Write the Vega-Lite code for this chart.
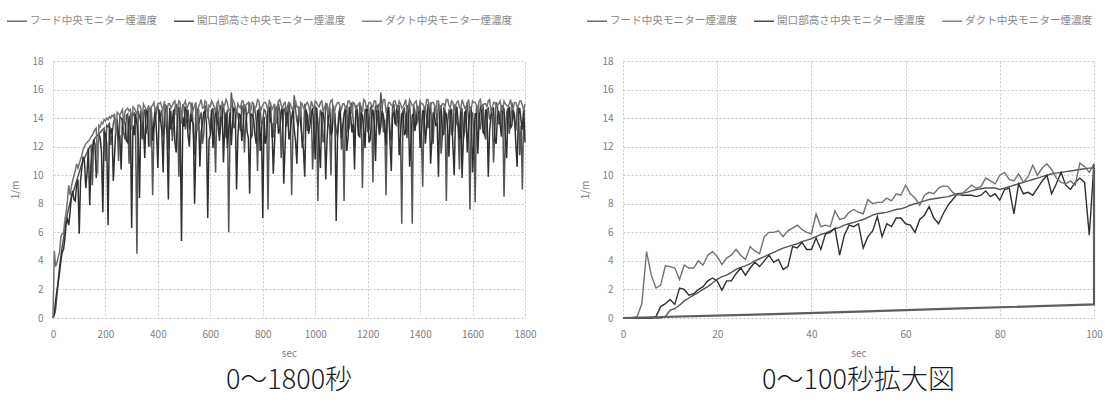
{
"$schema":"https://vega.github.io/schema/vega-lite/v6.json",
"background":"white",
"padding":{"left":6,"top":10,"right":5,"bottom":3},
"spacing":43,
"config":{
"font":"Noto Sans CJK JP",
"view":{"stroke":null},
"axis":{"labelColor":"#808080","labelFontSize":10,"titleColor":"#808080","titleFontSize":10,"titleFontWeight":"normal","gridColor":"#c8c8c8","gridDash":[2,2],"ticks":false,"domain":false,"labelPadding":11,"format":"d","labelFlush":false},
"axisY":{"titlePadding":11,"labelPadding":10},
"axisX":{"titlePadding":9},
"legend":{"orient":"none","direction":"horizontal","symbolType":"stroke","symbolSize":400,"symbolStrokeWidth":1.3,"labelFontSize":10.6,"labelColor":"#8a8a8a","labelOffset":2,"columnPadding":13,"padding":0},
"title":{"orient":"bottom","anchor":"middle","fontSize":27,"fontWeight":300,"color":"#1a1a1a","offset":10}
},
"datasets":{
"full":[
{"t":0,"A":0,"B":0,"C":0},{"t":5,"A":0.2,"B":0.3,"C":4.7},{"t":10,"A":0.6,"B":1.2,"C":3.6},{"t":20,"A":2.7,"B":2.5,"C":4.3},{"t":30,"A":4.3,"B":4.0,"C":5.7},{"t":40,"A":5.5,"B":4.8,"C":5.9},{"t":50,"A":6.8,"B":6.6,"C":7.4},{"t":60,"A":7.7,"B":6.5,"C":9.3},{"t":70,"A":8.4,"B":8.5,"C":9.2},{"t":80,"A":9.0,"B":8.3,"C":10.0},{"t":90,"A":9.6,"B":9.4,"C":10.8},{"t":100,"A":10.2,"B":5.9,"C":10.8},
{"t":110,"A":10.8,"B":10.5,"C":11.4},{"t":120,"A":11.2,"B":11.0,"C":12.0},{"t":130,"A":11.6,"B":10.2,"C":12.3},{"t":140,"A":12.0,"B":7.9,"C":12.5},{"t":150,"A":9.3,"B":11.8,"C":12.8},{"t":160,"A":12.6,"B":12.2,"C":13.2},{"t":170,"A":12.8,"B":11.4,"C":10.1},{"t":180,"A":13.0,"B":12.6,"C":13.4},{"t":190,"A":13.2,"B":7.4,"C":13.6},{"t":200,"A":11.0,"B":12.9,"C":13.8},
{"t":210,"A":13.4,"B":6.5,"C":13.9},{"t":220,"A":12.1,"B":13.0,"C":14.0},{"t":230,"A":13.6,"B":9.6,"C":14.1},{"t":240,"A":13.9,"B":13.5,"C":12.8},{"t":250,"A":11.0,"B":12.6,"C":14.3},{"t":260,"A":14.0,"B":10.4,"C":14.4},{"t":270,"A":12.9,"B":13.8,"C":13.6},{"t":280,"A":14.2,"B":12.4,"C":14.6},{"t":290,"A":10.8,"B":14.0,"C":14.5},{"t":300,"A":14.3,"B":6.3,"C":13.2},
{"t":310,"A":14.4,"B":12.8,"C":14.7},{"t":320,"A":4.5,"B":13.6,"C":14.2},{"t":330,"A":14.1,"B":8.4,"C":14.9},{"t":340,"A":12.5,"B":14.3,"C":13.8},{"t":350,"A":14.6,"B":11.2,"C":14.8},{"t":360,"A":13.4,"B":14.5,"C":14.6},{"t":370,"A":14.7,"B":13.0,"C":12.0},{"t":380,"A":8.6,"B":12.4,"C":14.9},{"t":390,"A":13.9,"B":14.6,"C":14.5},{"t":400,"A":14.8,"B":10.5,"C":15.0},
{"t":410,"A":14.2,"B":13.9,"C":15.1},{"t":420,"A":12.7,"B":10.2,"C":14.6},{"t":430,"A":14.9,"B":14.7,"C":13.4},{"t":440,"A":11.8,"B":8.3,"C":15.0},{"t":450,"A":14.5,"B":13.2,"C":14.7},{"t":460,"A":13.6,"B":14.6,"C":15.1},{"t":470,"A":15.0,"B":11.6,"C":14.2},{"t":480,"A":9.9,"B":14.8,"C":15.2},{"t":490,"A":14.3,"B":5.4,"C":13.6},{"t":500,"A":14.8,"B":13.4,"C":15.0},
{"t":510,"A":14.1,"B":14.5,"C":14.6},{"t":520,"A":13.2,"B":12.0,"C":15.1},{"t":530,"A":15.1,"B":13.8,"C":14.3},{"t":540,"A":11.4,"B":8.0,"C":14.9},{"t":550,"A":14.6,"B":14.2,"C":13.1},{"t":560,"A":14.0,"B":10.6,"C":15.0},{"t":570,"A":12.2,"B":13.7,"C":14.7},{"t":580,"A":14.9,"B":14.5,"C":15.2},{"t":590,"A":14.4,"B":7.0,"C":14.0},{"t":600,"A":13.0,"B":12.8,"C":14.8},
{"t":610,"A":14.7,"B":11.9,"C":15.0},{"t":620,"A":10.2,"B":14.6,"C":14.4},{"t":630,"A":14.4,"B":13.4,"C":15.2},{"t":640,"A":13.5,"B":14.8,"C":14.1},{"t":650,"A":15.0,"B":10.9,"C":14.8},{"t":660,"A":12.6,"B":14.4,"C":15.3},{"t":670,"A":6.0,"B":13.2,"C":14.5},{"t":680,"A":15.8,"B":12.1,"C":14.9},{"t":690,"A":13.3,"B":14.7,"C":15.1},{"t":700,"A":14.6,"B":9.0,"C":14.2},
{"t":710,"A":13.6,"B":14.3,"C":14.8},{"t":720,"A":14.9,"B":12.4,"C":15.2},{"t":730,"A":11.6,"B":14.9,"C":14.6},{"t":740,"A":14.3,"B":13.1,"C":15.0},{"t":750,"A":15.1,"B":8.7,"C":14.3},{"t":760,"A":12.8,"B":14.2,"C":15.1},{"t":770,"A":14.6,"B":12.9,"C":14.7},{"t":780,"A":10.3,"B":14.5,"C":15.3},{"t":790,"A":14.8,"B":11.7,"C":14.4},{"t":800,"A":13.9,"B":7.0,"C":14.9},
{"t":810,"A":14.5,"B":12.2,"C":15.1},{"t":820,"A":7.6,"B":14.6,"C":14.5},{"t":830,"A":14.9,"B":13.8,"C":15.0},{"t":840,"A":12.7,"B":10.1,"C":14.8},{"t":850,"A":14.2,"B":14.8,"C":13.6},{"t":860,"A":15.0,"B":12.9,"C":15.2},{"t":870,"A":11.2,"B":14.4,"C":14.9},{"t":880,"A":14.6,"B":9.4,"C":15.0},{"t":890,"A":13.4,"B":14.7,"C":14.4},{"t":900,"A":15.1,"B":12.5,"C":15.1},
{"t":910,"A":8.6,"B":14.0,"C":14.7},{"t":920,"A":15.6,"B":13.2,"C":15.2},{"t":930,"A":13.8,"B":10.8,"C":14.8},{"t":940,"A":14.7,"B":14.5,"C":13.9},{"t":950,"A":11.9,"B":12.6,"C":15.0},{"t":960,"A":15.0,"B":9.9,"C":14.6},{"t":970,"A":13.1,"B":14.2,"C":15.1},{"t":980,"A":14.5,"B":13.5,"C":14.3},{"t":990,"A":10.4,"B":14.7,"C":14.9},{"t":1000,"A":14.8,"B":11.1,"C":15.2},
{"t":1010,"A":8.2,"B":13.6,"C":14.9},{"t":1020,"A":14.6,"B":10.5,"C":15.1},{"t":1030,"A":12.3,"B":14.4,"C":14.5},{"t":1040,"A":15.0,"B":9.7,"C":15.0},{"t":1050,"A":13.7,"B":14.1,"C":14.2},{"t":1060,"A":10.0,"B":12.8,"C":15.2},{"t":1070,"A":14.8,"B":14.6,"C":13.8},{"t":1080,"A":13.2,"B":6.8,"C":14.9},{"t":1090,"A":14.4,"B":13.9,"C":15.1},{"t":1100,"A":11.8,"B":12.6,"C":14.6},
{"t":1110,"A":8.2,"B":14.3,"C":15.0},{"t":1120,"A":14.9,"B":11.7,"C":14.6},{"t":1130,"A":13.4,"B":14.8,"C":15.2},{"t":1140,"A":15.1,"B":13.0,"C":14.3},{"t":1150,"A":12.0,"B":10.4,"C":15.0},{"t":1160,"A":14.5,"B":14.6,"C":14.8},{"t":1170,"A":14.9,"B":12.7,"C":15.1},{"t":1180,"A":9.1,"B":14.2,"C":14.4},{"t":1190,"A":14.6,"B":11.9,"C":15.2},{"t":1200,"A":13.1,"B":14.9,"C":14.7},
{"t":1210,"A":14.7,"B":12.5,"C":15.1},{"t":1220,"A":9.5,"B":14.6,"C":14.8},{"t":1230,"A":14.9,"B":11.0,"C":15.2},{"t":1240,"A":13.6,"B":14.9,"C":14.6},{"t":1250,"A":15.8,"B":13.4,"C":15.0},{"t":1260,"A":13.0,"B":14.2,"C":15.3},{"t":1270,"A":8.6,"B":12.1,"C":14.5},{"t":1280,"A":14.8,"B":14.7,"C":15.1},{"t":1290,"A":12.4,"B":10.3,"C":14.9},{"t":1300,"A":15.0,"B":14.4,"C":15.2},
{"t":1310,"A":13.5,"B":14.6,"C":14.8},{"t":1320,"A":14.9,"B":11.4,"C":15.2},{"t":1330,"A":6.6,"B":14.3,"C":14.7},{"t":1340,"A":14.7,"B":12.8,"C":15.0},{"t":1350,"A":12.6,"B":14.9,"C":14.4},{"t":1360,"A":15.1,"B":10.6,"C":15.3},{"t":1370,"A":6.6,"B":14.2,"C":14.9},{"t":1380,"A":14.5,"B":13.1,"C":15.1},{"t":1390,"A":13.8,"B":14.8,"C":14.5},{"t":1400,"A":15.0,"B":11.9,"C":15.2},
{"t":1410,"A":9.2,"B":14.5,"C":15.0},{"t":1420,"A":14.8,"B":12.2,"C":14.7},{"t":1430,"A":13.3,"B":14.9,"C":15.3},{"t":1440,"A":15.1,"B":10.8,"C":14.9},{"t":1450,"A":12.2,"B":14.4,"C":15.1},{"t":1460,"A":14.6,"B":13.5,"C":14.6},{"t":1470,"A":15.0,"B":9.9,"C":15.2},{"t":1480,"A":11.5,"B":14.7,"C":14.8},{"t":1490,"A":14.7,"B":12.9,"C":15.0},{"t":1500,"A":8.2,"B":14.3,"C":15.3},
{"t":1510,"A":14.5,"B":11.3,"C":14.9},{"t":1520,"A":12.8,"B":14.6,"C":15.2},{"t":1530,"A":14.9,"B":10.0,"C":14.6},{"t":1540,"A":13.6,"B":14.8,"C":15.1},{"t":1550,"A":10.4,"B":12.5,"C":14.8},{"t":1560,"A":14.7,"B":9.8,"C":15.3},{"t":1570,"A":13.0,"B":14.4,"C":14.7},{"t":1580,"A":15.1,"B":11.6,"C":15.0},{"t":1590,"A":7.6,"B":14.7,"C":14.5},{"t":1600,"A":14.4,"B":10.2,"C":15.2},
{"t":1610,"A":8.1,"B":14.3,"C":15.1},{"t":1620,"A":14.8,"B":11.5,"C":14.6},{"t":1630,"A":13.2,"B":14.8,"C":15.3},{"t":1640,"A":15.0,"B":13.0,"C":14.9},{"t":1650,"A":12.5,"B":14.6,"C":15.0},{"t":1660,"A":14.7,"B":9.9,"C":15.2},{"t":1670,"A":14.2,"B":14.1,"C":14.5},{"t":1680,"A":10.9,"B":14.7,"C":15.1},{"t":1690,"A":15.1,"B":12.2,"C":14.8},{"t":1700,"A":13.6,"B":14.5,"C":15.0},
{"t":1710,"A":14.9,"B":12.7,"C":14.7},{"t":1720,"A":8.5,"B":14.6,"C":15.2},{"t":1730,"A":14.4,"B":11.2,"C":14.9},{"t":1740,"A":12.9,"B":14.8,"C":15.0},{"t":1750,"A":15.1,"B":13.5,"C":14.6},{"t":1760,"A":13.8,"B":14.2,"C":15.1},{"t":1770,"A":14.6,"B":10.6,"C":14.8},{"t":1780,"A":11.4,"B":14.7,"C":15.2},{"t":1790,"A":9.0,"B":13.2,"C":14.9},{"t":1800,"A":14.5,"B":12.3,"C":15.0},
{"t":15,"A":1.6,"B":1.9,"C":3.9},{"t":25,"A":3.6,"B":3.2,"C":4.6},{"t":35,"A":5.0,"B":4.6,"C":5.9},{"t":45,"A":6.1,"B":5.5,"C":6.8},{"t":55,"A":7.3,"B":6.9,"C":8.2},{"t":65,"A":8.1,"B":7.4,"C":8.6},{"t":75,"A":8.7,"B":8.9,"C":9.6},{"t":85,"A":9.3,"B":8.2,"C":10.3},{"t":95,"A":9.9,"B":9.7,"C":10.5},
{"t":105,"A":10.5,"B":9.6,"C":11.1},{"t":115,"A":11.0,"B":11.3,"C":11.8},{"t":125,"A":11.4,"B":9.1,"C":12.2},{"t":135,"A":11.8,"B":11.9,"C":12.4},{"t":145,"A":12.1,"B":10.8,"C":12.7},{"t":155,"A":12.4,"B":12.5,"C":13.0},{"t":165,"A":12.7,"B":9.8,"C":13.3},{"t":175,"A":12.9,"B":12.9,"C":13.5},{"t":185,"A":13.1,"B":11.6,"C":13.7},{"t":195,"A":13.3,"B":13.1,"C":13.9},
{"t":205,"A":13.5,"B":12.2,"C":14.0},{"t":215,"A":13.7,"B":13.4,"C":14.1},{"t":225,"A":12.8,"B":13.3,"C":14.2},{"t":235,"A":14.0,"B":11.5,"C":14.3},{"t":245,"A":13.6,"B":13.9,"C":14.4},{"t":255,"A":14.1,"B":12.7,"C":14.2},{"t":265,"A":13.8,"B":14.0,"C":14.6},{"t":275,"A":12.5,"B":13.6,"C":14.5},{"t":285,"A":14.3,"B":12.3,"C":14.7},{"t":295,"A":13.9,"B":14.2,"C":14.6},
{"t":305,"A":14.2,"B":13.5,"C":14.8},{"t":315,"A":13.0,"B":14.3,"C":14.5},{"t":325,"A":14.5,"B":12.6,"C":14.9},{"t":335,"A":13.7,"B":14.4,"C":14.7},{"t":345,"A":14.3,"B":13.3,"C":15.0},{"t":355,"A":12.9,"B":14.6,"C":14.6},{"t":365,"A":14.6,"B":12.0,"C":14.9},{"t":375,"A":14.0,"B":14.5,"C":14.8},{"t":385,"A":13.2,"B":13.8,"C":15.1},{"t":395,"A":14.7,"B":12.9,"C":14.7},
{"t":405,"A":13.8,"B":14.6,"C":15.0},{"t":415,"A":14.6,"B":13.1,"C":14.8},{"t":425,"A":13.3,"B":14.4,"C":15.2},{"t":435,"A":14.8,"B":12.6,"C":14.6},{"t":445,"A":13.9,"B":14.7,"C":15.0},{"t":455,"A":12.4,"B":13.8,"C":14.9},{"t":465,"A":14.7,"B":12.3,"C":15.2},{"t":475,"A":14.1,"B":14.5,"C":14.7},{"t":485,"A":13.5,"B":13.2,"C":15.1},{"t":495,"A":14.9,"B":14.1,"C":14.8},
{"t":505,"A":13.2,"B":14.8,"C":15.2},{"t":515,"A":14.6,"B":12.8,"C":14.9},{"t":525,"A":14.0,"B":14.3,"C":15.0},{"t":535,"A":13.1,"B":13.6,"C":14.6},{"t":545,"A":14.8,"B":12.2,"C":15.1},{"t":555,"A":13.6,"B":14.6,"C":14.8},{"t":565,"A":14.4,"B":13.0,"C":15.3},{"t":575,"A":12.9,"B":14.4,"C":14.7},{"t":585,"A":14.7,"B":13.7,"C":15.1},{"t":595,"A":13.8,"B":12.5,"C":14.9},
{"t":605,"A":14.5,"B":14.6,"C":15.2},{"t":615,"A":13.4,"B":13.3,"C":14.8},{"t":625,"A":14.9,"B":14.0,"C":15.0},{"t":635,"A":12.8,"B":12.4,"C":14.7},{"t":645,"A":14.3,"B":14.7,"C":15.2},{"t":655,"A":13.9,"B":13.5,"C":14.9},{"t":665,"A":14.6,"B":11.9,"C":15.1},{"t":675,"A":13.0,"B":14.4,"C":14.6},{"t":685,"A":14.8,"B":13.8,"C":15.3},{"t":695,"A":13.5,"B":14.6,"C":14.8},
{"t":705,"A":14.2,"B":12.7,"C":15.0},{"t":715,"A":13.1,"B":14.2,"C":14.7},{"t":725,"A":14.7,"B":13.4,"C":15.2},{"t":735,"A":13.7,"B":14.8,"C":14.9},{"t":745,"A":14.4,"B":12.6,"C":15.1},{"t":755,"A":12.6,"B":14.3,"C":14.6},{"t":765,"A":14.9,"B":13.9,"C":15.0},{"t":775,"A":13.8,"B":12.2,"C":14.8},{"t":785,"A":14.3,"B":14.6,"C":15.2},{"t":795,"A":13.2,"B":13.4,"C":14.7},
{"t":805,"A":14.6,"B":14.1,"C":15.1},{"t":815,"A":13.9,"B":12.8,"C":14.9},{"t":825,"A":14.2,"B":14.7,"C":15.2},{"t":835,"A":12.7,"B":13.6,"C":14.6},{"t":845,"A":14.8,"B":12.3,"C":15.0},{"t":855,"A":13.6,"B":14.5,"C":14.8},{"t":865,"A":14.5,"B":13.2,"C":15.3},{"t":875,"A":13.1,"B":14.8,"C":14.7},{"t":885,"A":14.7,"B":12.0,"C":15.1},{"t":895,"A":13.8,"B":14.3,"C":14.9},
{"t":905,"A":14.1,"B":13.0,"C":15.0},{"t":915,"A":12.9,"B":14.6,"C":14.6},{"t":925,"A":14.6,"B":12.4,"C":15.2},{"t":935,"A":13.4,"B":14.1,"C":14.8},{"t":945,"A":14.8,"B":13.5,"C":15.1},{"t":955,"A":12.6,"B":11.8,"C":14.7},{"t":965,"A":14.3,"B":14.6,"C":15.0},{"t":975,"A":13.7,"B":12.9,"C":14.9},{"t":985,"A":14.5,"B":14.2,"C":15.2},{"t":995,"A":13.0,"B":13.3,"C":14.6},
{"t":1005,"A":14.7,"B":14.7,"C":15.1},{"t":1015,"A":13.5,"B":12.1,"C":14.8},{"t":1025,"A":14.2,"B":14.4,"C":15.2},{"t":1035,"A":12.8,"B":13.6,"C":14.7},{"t":1045,"A":14.9,"B":12.5,"C":15.0},{"t":1055,"A":13.3,"B":14.8,"C":14.9},{"t":1065,"A":14.6,"B":13.1,"C":15.3},{"t":1075,"A":13.9,"B":14.3,"C":14.6},{"t":1085,"A":12.7,"B":12.7,"C":15.1},{"t":1095,"A":14.8,"B":14.5,"C":14.8},
{"t":1105,"A":13.6,"B":13.4,"C":15.0},{"t":1115,"A":14.4,"B":14.7,"C":14.7},{"t":1125,"A":13.0,"B":12.6,"C":15.2},{"t":1135,"A":14.7,"B":14.2,"C":14.9},{"t":1145,"A":13.8,"B":13.6,"C":15.1},{"t":1155,"A":14.2,"B":14.9,"C":14.6},{"t":1165,"A":12.9,"B":12.8,"C":15.0},{"t":1175,"A":14.8,"B":14.4,"C":14.8},{"t":1185,"A":13.5,"B":13.1,"C":15.3},{"t":1195,"A":14.6,"B":14.6,"C":14.7},
{"t":1205,"A":13.2,"B":12.3,"C":15.1},{"t":1215,"A":14.9,"B":14.1,"C":14.9},{"t":1225,"A":13.7,"B":13.7,"C":15.2},{"t":1235,"A":14.3,"B":14.8,"C":14.6},{"t":1245,"A":12.8,"B":12.9,"C":15.0},{"t":1255,"A":14.7,"B":14.5,"C":14.8},{"t":1265,"A":13.9,"B":13.3,"C":15.3},{"t":1275,"A":14.4,"B":14.7,"C":14.7},{"t":1285,"A":13.1,"B":12.4,"C":15.1},{"t":1295,"A":14.8,"B":14.2,"C":14.9},
{"t":1305,"A":13.6,"B":13.6,"C":15.2},{"t":1315,"A":14.5,"B":14.9,"C":14.6},{"t":1325,"A":12.9,"B":12.7,"C":15.0},{"t":1335,"A":14.6,"B":14.4,"C":14.8},{"t":1345,"A":13.8,"B":13.0,"C":15.3},{"t":1355,"A":14.3,"B":14.6,"C":14.7},{"t":1365,"A":13.2,"B":12.2,"C":15.1},{"t":1375,"A":14.9,"B":14.3,"C":14.9},{"t":1385,"A":13.5,"B":13.8,"C":15.2},{"t":1395,"A":14.4,"B":14.7,"C":14.6},
{"t":1405,"A":12.7,"B":12.9,"C":15.0},{"t":1415,"A":14.7,"B":14.5,"C":14.8},{"t":1425,"A":13.9,"B":13.4,"C":15.3},{"t":1435,"A":14.2,"B":14.8,"C":14.7},{"t":1445,"A":13.0,"B":12.5,"C":15.1},{"t":1455,"A":14.8,"B":14.1,"C":14.9},{"t":1465,"A":13.6,"B":13.6,"C":15.2},{"t":1475,"A":14.5,"B":14.9,"C":14.6},{"t":1485,"A":12.8,"B":12.8,"C":15.0},{"t":1495,"A":14.6,"B":14.4,"C":14.8},
{"t":1505,"A":13.7,"B":13.2,"C":15.3},{"t":1515,"A":14.3,"B":14.6,"C":14.7},{"t":1525,"A":13.1,"B":12.1,"C":15.1},{"t":1535,"A":14.9,"B":14.2,"C":14.9},{"t":1545,"A":13.4,"B":13.7,"C":15.2},{"t":1555,"A":14.4,"B":14.7,"C":14.6},{"t":1565,"A":12.6,"B":12.6,"C":15.0},{"t":1575,"A":14.7,"B":14.5,"C":14.8},{"t":1585,"A":13.8,"B":13.3,"C":15.3},{"t":1595,"A":14.2,"B":14.8,"C":14.7},
{"t":1605,"A":13.0,"B":12.3,"C":15.1},{"t":1615,"A":14.8,"B":14.3,"C":14.9},{"t":1625,"A":13.5,"B":13.8,"C":15.2},{"t":1635,"A":14.5,"B":14.6,"C":14.6},{"t":1645,"A":12.9,"B":12.9,"C":15.0},{"t":1655,"A":14.6,"B":14.4,"C":14.8},{"t":1665,"A":13.9,"B":13.1,"C":15.3},{"t":1675,"A":14.3,"B":14.7,"C":14.7},{"t":1685,"A":13.2,"B":12.5,"C":15.1},{"t":1695,"A":14.9,"B":14.2,"C":14.9},
{"t":1705,"A":13.6,"B":13.6,"C":15.2},{"t":1715,"A":14.4,"B":14.9,"C":14.6},{"t":1725,"A":12.8,"B":12.7,"C":15.0},{"t":1735,"A":14.7,"B":14.4,"C":14.8},{"t":1745,"A":13.7,"B":13.3,"C":15.3},{"t":1755,"A":14.2,"B":14.6,"C":14.7},{"t":1765,"A":13.1,"B":12.2,"C":15.1},{"t":1775,"A":14.8,"B":14.3,"C":14.9},{"t":1785,"A":13.5,"B":13.8,"C":15.2},{"t":1795,"A":14.5,"B":14.7,"C":14.6}
],
"zoom":[
{"t":0,"A":0,"B":0,"C":0},{"t":1,"A":0,"B":0,"C":0},{"t":2,"A":0,"B":0,"C":0},{"t":3,"A":0,"B":0,"C":0.1},{"t":4,"A":0,"B":0,"C":1.0},{"t":5,"A":0,"B":0,"C":4.65},{"t":6,"A":0,"B":0,"C":3.0},{"t":7,"A":0,"B":0.1,"C":2.1},{"t":8,"A":0,"B":0.8,"C":2.3},{"t":9,"A":0.1,"B":1.0,"C":3.65},
{"t":10,"A":0.55,"B":1.3,"C":3.6},{"t":11,"A":0.65,"B":0.95,"C":3.5},{"t":12,"A":0.9,"B":2.1,"C":2.7},{"t":13,"A":1.2,"B":2.0,"C":3.7},{"t":14,"A":1.4,"B":1.6,"C":3.5},{"t":15,"A":1.6,"B":1.7,"C":3.5},{"t":16,"A":1.8,"B":2.0,"C":4.0},{"t":17,"A":2.0,"B":2.2,"C":3.7},{"t":18,"A":2.2,"B":2.6,"C":4.4},{"t":19,"A":2.45,"B":2.8,"C":4.65},
{"t":20,"A":2.7,"B":2.6,"C":4.3},{"t":21,"A":2.9,"B":1.95,"C":3.75},{"t":22,"A":3.0,"B":2.6,"C":4.2},{"t":23,"A":3.2,"B":2.6,"C":4.4},{"t":24,"A":3.4,"B":3.1,"C":4.8},{"t":25,"A":3.55,"B":3.5,"C":4.4},{"t":26,"A":3.65,"B":3.0,"C":4.1},{"t":27,"A":3.8,"B":3.5,"C":5.0},{"t":28,"A":4.0,"B":3.9,"C":4.7},{"t":29,"A":4.15,"B":3.6,"C":4.5},
{"t":30,"A":4.3,"B":4.0,"C":5.7},{"t":31,"A":4.45,"B":4.4,"C":6.0},{"t":32,"A":4.6,"B":3.9,"C":6.0},{"t":33,"A":4.75,"B":4.1,"C":6.1},{"t":34,"A":4.9,"B":3.4,"C":5.7},{"t":35,"A":5.0,"B":3.6,"C":6.1},{"t":36,"A":5.1,"B":5.0,"C":6.3},{"t":37,"A":5.2,"B":4.9,"C":6.5},{"t":38,"A":5.35,"B":5.3,"C":6.2},{"t":39,"A":5.45,"B":4.8,"C":6.0},
{"t":40,"A":5.55,"B":4.8,"C":5.9},{"t":41,"A":5.7,"B":5.6,"C":7.3},{"t":42,"A":5.85,"B":4.8,"C":6.4},{"t":43,"A":5.95,"B":5.9,"C":6.5},{"t":44,"A":6.1,"B":6.0,"C":6.4},{"t":45,"A":6.25,"B":6.3,"C":7.5},{"t":46,"A":6.35,"B":4.4,"C":6.9},{"t":47,"A":6.5,"B":5.8,"C":7.0},{"t":48,"A":6.6,"B":6.5,"C":7.4},{"t":49,"A":6.7,"B":6.4,"C":7.6},
{"t":50,"A":6.8,"B":6.6,"C":7.4},{"t":51,"A":6.9,"B":4.9,"C":7.3},{"t":52,"A":7.05,"B":5.7,"C":8.3},{"t":53,"A":7.2,"B":6.1,"C":8.0},{"t":54,"A":7.3,"B":7.1,"C":8.1},{"t":55,"A":7.35,"B":5.7,"C":8.1},{"t":56,"A":7.4,"B":6.6,"C":8.4},{"t":57,"A":7.5,"B":6.4,"C":8.2},{"t":58,"A":7.6,"B":7.0,"C":8.7},{"t":59,"A":7.65,"B":7.0,"C":8.6},
{"t":60,"A":7.75,"B":6.6,"C":9.3},{"t":61,"A":7.9,"B":6.5,"C":8.7},{"t":62,"A":8.0,"B":6.0,"C":8.4},{"t":63,"A":8.1,"B":6.9,"C":7.9},{"t":64,"A":8.2,"B":7.2,"C":8.6},{"t":65,"A":8.3,"B":7.8,"C":8.8},{"t":66,"A":8.35,"B":7.0,"C":8.7},{"t":67,"A":8.4,"B":6.6,"C":9.1},{"t":68,"A":8.45,"B":7.3,"C":9.25},{"t":69,"A":8.5,"B":7.9,"C":9.2},
{"t":70,"A":8.6,"B":8.3,"C":8.8},{"t":71,"A":8.7,"B":8.7,"C":8.6},{"t":72,"A":8.75,"B":8.6,"C":8.7},{"t":73,"A":8.8,"B":8.6,"C":9.0},{"t":74,"A":8.9,"B":8.6,"C":9.3},{"t":75,"A":9.0,"B":8.5,"C":9.1},{"t":76,"A":9.05,"B":8.6,"C":9.2},{"t":77,"A":9.1,"B":8.9,"C":9.8},{"t":78,"A":9.1,"B":8.5,"C":9.6},{"t":79,"A":9.1,"B":8.7,"C":9.4},
{"t":80,"A":9.0,"B":8.25,"C":10.0},{"t":81,"A":9.1,"B":9.0,"C":10.2},{"t":82,"A":9.2,"B":9.1,"C":9.7},{"t":83,"A":9.3,"B":7.3,"C":9.6},{"t":84,"A":9.4,"B":9.4,"C":10.1},{"t":85,"A":9.5,"B":8.7,"C":9.5},{"t":86,"A":9.6,"B":8.8,"C":9.9},{"t":87,"A":9.7,"B":8.6,"C":10.7},{"t":88,"A":9.8,"B":9.1,"C":10.0},{"t":89,"A":9.9,"B":9.6,"C":10.5},
{"t":90,"A":10.0,"B":10.0,"C":10.8},{"t":91,"A":10.1,"B":8.7,"C":10.4},{"t":92,"A":10.15,"B":9.4,"C":9.8},{"t":93,"A":10.2,"B":10.2,"C":9.5},{"t":94,"A":10.25,"B":9.3,"C":9.4},{"t":95,"A":10.3,"B":9.0,"C":9.6},{"t":96,"A":10.35,"B":9.5,"C":9.3},{"t":97,"A":10.4,"B":9.8,"C":10.85},{"t":98,"A":10.45,"B":9.5,"C":10.6},{"t":99,"A":10.5,"B":5.8,"C":10.2},
{"t":100,"A":10.5,"B":10.8,"C":10.8}
],
"base":[
{"i":0,"t":0,"v":0},{"i":1,"t":30,"v":0.25},{"i":2,"t":50,"v":0.45},{"i":3,"t":70,"v":0.65},{"i":4,"t":100,"v":0.95},{"i":5,"t":100,"v":10.5}
]
},
"resolve":{"legend":{"color":"independent"}},
"hconcat":[
{
"width":472,"height":257,
"title":{"text":"0〜1800秒"},
"data":{"name":"full"},
"transform":[{"fold":["A","B","C"],"as":["k","v"]}],
"mark":{"type":"line","strokeWidth":1.5},
"encoding":{
"x":{"field":"t","type":"quantitative","scale":{"domain":[0,1800],"nice":false},"axis":{"values":[0,200,400,600,800,1000,1200,1400,1600,1800],"title":"sec"}},
"y":{"field":"v","type":"quantitative","scale":{"domain":[0,18],"nice":false},"axis":{"values":[0,2,4,6,8,10,12,14,16,18],"title":"1/m"}},
"color":{"field":"k","type":"nominal","scale":{"domain":["A","B","C"],"range":["#555555","#303030","#727272"]},"legend":{"title":null,"legendX":-47,"legendY":-51,"labelExpr":"datum.label=='A'?'フード中央モニター煙濃度':datum.label=='B'?'開口部高さ中央モニター煙濃度':'ダクト中央モニター煙濃度'"}}
}
},
{
"width":471,"height":257,
"title":{"text":"0〜100秒拡大図"},
"encoding":{
"x":{"field":"t","type":"quantitative","scale":{"domain":[0,100],"nice":false},"axis":{"values":[0,20,40,60,80,100],"title":"sec"}},
"y":{"field":"v","type":"quantitative","scale":{"domain":[0,18],"nice":false},"axis":{"values":[0,2,4,6,8,10,12,14,16,18],"title":"1/m"}}
},
"layer":[
{
"data":{"name":"zoom"},
"transform":[{"fold":["A","B","C"],"as":["k","v"]}],
"mark":{"type":"line","strokeWidth":1.4},
"encoding":{
"color":{"field":"k","type":"nominal","scale":{"domain":["A","B","C"],"range":["#5a5a5a","#333333","#8c8c8c"]},"legend":{"title":null,"legendX":-37,"legendY":-51,"labelExpr":"datum.label=='A'?'フード中央モニター煙濃度':datum.label=='B'?'開口部高さ中央モニター煙濃度':'ダクト中央モニター煙濃度'"}}
}
},
{
"data":{"name":"base"},
"mark":{"type":"line","color":"#5e5e5e","strokeWidth":2.2},
"encoding":{"order":{"field":"i","type":"quantitative"}}
}
]
}
]
}
